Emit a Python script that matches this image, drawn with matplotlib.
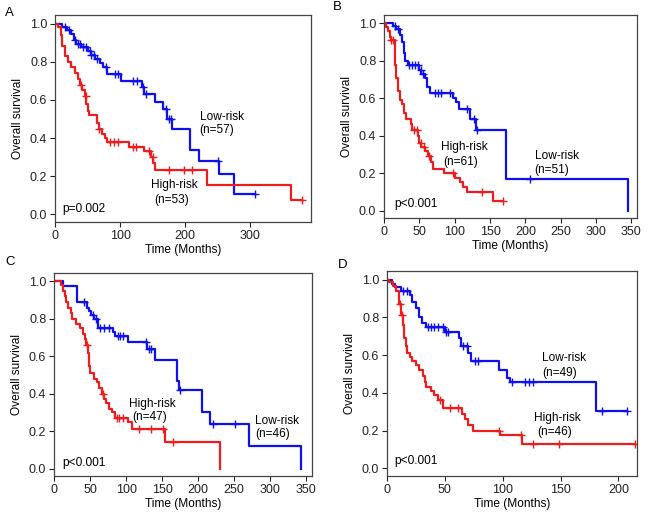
import matplotlib.pyplot as plt
import numpy as np

plt.rcParams['font.family'] = ['Liberation Sans', 'DejaVu Sans']

BLUE = '#1010ee'
RED = '#ee1c1c'

# ---- panel A ----
a_low_t = [0, 10, 18, 25, 29, 33, 40, 50, 55, 62, 69, 74, 80, 102, 134, 137, 154, 166, 172, 179, 207, 221, 252, 275]
a_low_s = [1.0, 0.982, 0.965, 0.947, 0.912, 0.895, 0.877, 0.856, 0.835, 0.815, 0.795, 0.77, 0.735, 0.70, 0.665, 0.63, 0.59, 0.55, 0.50, 0.45, 0.34, 0.28, 0.21, 0.105]
a_low_end = 307
a_low_cens = [15, 22, 30, 35, 38, 43, 47, 53, 56, 60, 64, 78, 92, 96, 120, 126, 135, 140, 170, 175, 178, 250, 307]

a_high_t = [0, 5, 9, 11, 15, 20, 25, 31, 36, 39, 42, 46, 48, 50, 52, 64, 67, 72, 77, 80, 113, 137, 147, 151, 154, 233, 363]
a_high_s = [1.0, 0.98, 0.94, 0.88, 0.83, 0.80, 0.77, 0.74, 0.71, 0.68, 0.65, 0.62, 0.58, 0.54, 0.52, 0.48, 0.45, 0.42, 0.40, 0.38, 0.355, 0.33, 0.30, 0.27, 0.23, 0.155, 0.075]
a_high_end = 379
a_high_cens = [40, 47, 68, 85, 90, 96, 120, 125, 145, 150, 175, 198, 210, 379]

# ---- panel B ----
b_low_t = [0, 13, 17, 22, 25, 28, 30, 34, 50, 53, 58, 61, 65, 98, 102, 106, 121, 130, 173, 345]
b_low_s = [1.0, 0.985, 0.97, 0.94, 0.90, 0.84, 0.80, 0.78, 0.75, 0.73, 0.71, 0.66, 0.63, 0.60, 0.58, 0.54, 0.49, 0.43, 0.17, 0.0]
b_low_end = 345
b_low_cens = [15, 20, 36, 40, 44, 48, 52, 55, 72, 76, 80, 94, 118, 128, 131, 207]

b_high_t = [0, 3, 6, 8, 10, 15, 16, 17, 20, 22, 25, 28, 31, 38, 40, 48, 50, 53, 58, 62, 67, 69, 85, 100, 107, 112, 117, 154]
b_high_s = [1.0, 0.98, 0.96, 0.93, 0.91, 0.85, 0.78, 0.71, 0.64, 0.59, 0.57, 0.52, 0.49, 0.46, 0.43, 0.40, 0.36, 0.34, 0.32, 0.29, 0.26, 0.22, 0.20, 0.175, 0.15, 0.125, 0.10, 0.05]
b_high_end = 168
b_high_cens = [10, 13, 43, 46, 52, 56, 63, 97, 138, 168]

# ---- panel C ----
c_low_t = [0, 12, 32, 46, 49, 52, 56, 61, 82, 84, 103, 129, 140, 171, 174, 206, 217, 270, 343]
c_low_s = [1.0, 0.975, 0.89, 0.86, 0.84, 0.82, 0.80, 0.75, 0.73, 0.71, 0.675, 0.64, 0.58, 0.47, 0.42, 0.30, 0.24, 0.12, 0.0]
c_low_end = 343
c_low_cens = [42, 54, 58, 64, 70, 76, 89, 92, 96, 128, 132, 134, 175, 221, 251]

c_high_t = [0, 10, 12, 15, 17, 19, 23, 25, 30, 36, 40, 43, 45, 47, 49, 50, 56, 60, 62, 66, 69, 72, 76, 81, 84, 103, 108, 154, 230]
c_high_s = [1.0, 0.98, 0.95, 0.92, 0.89, 0.86, 0.83, 0.80, 0.77, 0.75, 0.72, 0.69, 0.66, 0.62, 0.55, 0.51, 0.48, 0.46, 0.43, 0.40, 0.37, 0.35, 0.32, 0.30, 0.27, 0.25, 0.21, 0.14, 0.0]
c_high_end = 230
c_high_cens = [46, 68, 87, 90, 96, 118, 135, 151, 165]

# ---- panel D ----
d_low_t = [0, 4, 7, 12, 20, 22, 25, 28, 30, 34, 50, 62, 64, 70, 73, 97, 104, 106, 181]
d_low_s = [1.0, 0.975, 0.96, 0.94, 0.92, 0.88, 0.85, 0.80, 0.77, 0.75, 0.72, 0.69, 0.65, 0.61, 0.57, 0.52, 0.48, 0.46, 0.305]
d_low_end = 207
d_low_cens = [14, 17, 35, 38, 41, 44, 48, 51, 53, 66, 69, 76, 79, 108, 119, 123, 126, 186, 207]

d_high_t = [0, 2, 5, 8, 10, 12, 14, 15, 16, 17, 20, 22, 25, 28, 31, 33, 34, 38, 41, 44, 48, 65, 67, 70, 74, 98, 117]
d_high_s = [1.0, 0.985, 0.965, 0.94, 0.87, 0.81, 0.76, 0.69, 0.65, 0.61, 0.59, 0.57, 0.55, 0.52, 0.49, 0.46, 0.43, 0.41, 0.39, 0.36, 0.32, 0.29, 0.26, 0.23, 0.20, 0.175, 0.13]
d_high_end = 214
d_high_cens = [11, 13, 46, 54, 61, 97, 116, 126, 149, 214]

FS = 8.6


def km(ax, t, s, end, cens, color):
    tt = list(t) + [end]
    ss = list(s) + [s[-1]]
    ax.step(tt, ss, where='post', color=color, lw=1.6)
    # censor marks sit on the curve
    idx = np.searchsorted(t, cens, side='right') - 1
    cy = np.array(s)[idx]
    ax.plot(cens, cy, ls='none', marker='+', ms=6, mew=1.0, color=color)


def style(ax, xmax, xticks):
    ax.set_xlim(0, xmax)
    ax.set_ylim(-0.04, 1.045)
    ax.set_xticks(xticks)
    ax.set_yticks([0, 0.2, 0.4, 0.6, 0.8, 1.0])
    ax.set_yticklabels(['0.0', '0.2', '0.4', '0.6', '0.8', '1.0'])
    ax.tick_params(direction='out', length=3.5, width=0.8, labelsize=9, colors='#222222', pad=2)
    for sp in ax.spines.values():
        sp.set_color('#444444')
        sp.set_linewidth(0.9)
    ax.set_xlabel('Time (Months)', fontsize=FS, labelpad=2)
    ax.set_ylabel('Overall survival', fontsize=FS, labelpad=4)


fig = plt.figure(figsize=(6.5, 5.17), dpi=100)
W, H = 650, 517


def add_ax(l, t, r, b):
    return fig.add_axes([l / W, 1 - b / H, (r - l) / W, (b - t) / H])


axA = add_ax(55, 15, 311, 222)
axB = add_ax(384, 15, 637, 218)
axC = add_ax(54, 273, 312, 476)
axD = add_ax(387, 271, 637, 476)

km(axA, a_low_t, a_low_s, a_low_end, a_low_cens, BLUE)
km(axA, a_high_t, a_high_s, a_high_end, a_high_cens, RED)
style(axA, 393, [0, 100, 200, 300])
axA.text(222, 0.51, 'Low-risk', fontsize=FS, va='center')
axA.text(222, 0.44, '(n=57)', fontsize=FS, va='center')
axA.text(148, 0.154, 'High-risk', fontsize=FS, va='center')
axA.text(152, 0.075, '(n=53)', fontsize=FS, va='center')
axA.text(11, 0.028, 'p=0.002', fontsize=FS, va='center')

km(axB, b_low_t, b_low_s, b_low_end, b_low_cens, BLUE)
km(axB, b_high_t, b_high_s, b_high_end, b_high_cens, RED)
style(axB, 358, [0, 50, 100, 150, 200, 250, 300, 350])
axB.text(213, 0.294, 'Low-risk', fontsize=FS, va='center')
axB.text(212, 0.218, '(n=51)', fontsize=FS, va='center')
axB.text(80, 0.337, 'High-risk', fontsize=FS, va='center')
axB.text(84, 0.259, '(n=61)', fontsize=FS, va='center')
axB.text(15, 0.037, 'p<0.001', fontsize=FS, va='center')

km(axC, c_low_t, c_low_s, c_low_end, c_low_cens, BLUE)
km(axC, c_high_t, c_high_s, c_high_end, c_high_cens, RED)
style(axC, 358, [0, 50, 100, 150, 200, 250, 300, 350])
axC.text(104, 0.347, 'High-risk', fontsize=FS, va='center')
axC.text(109, 0.276, '(n=47)', fontsize=FS, va='center')
axC.text(279, 0.253, 'Low-risk', fontsize=FS, va='center')
axC.text(279, 0.182, '(n=46)', fontsize=FS, va='center')
axC.text(11, 0.032, 'p<0.001', fontsize=FS, va='center')

km(axD, d_low_t, d_low_s, d_low_end, d_low_cens, BLUE)
km(axD, d_high_t, d_high_s, d_high_end, d_high_cens, RED)
style(axD, 216, [0, 50, 100, 150, 200])
axD.text(134, 0.586, 'Low-risk', fontsize=FS, va='center')
axD.text(134, 0.507, '(n=49)', fontsize=FS, va='center')
axD.text(127, 0.269, 'High-risk', fontsize=FS, va='center')
axD.text(130, 0.195, '(n=46)', fontsize=FS, va='center')
axD.text(6, 0.04, 'p<0.001', fontsize=FS, va='center')

for lab, x, y in [('A', 5, 13), ('B', 333, 7), ('C', 5, 262), ('D', 338, 265)]:
    fig.text(x / W, 1 - y / H, lab, fontsize=9.5, va='center', ha='left')

fig.savefig('out.png', dpi=100)
